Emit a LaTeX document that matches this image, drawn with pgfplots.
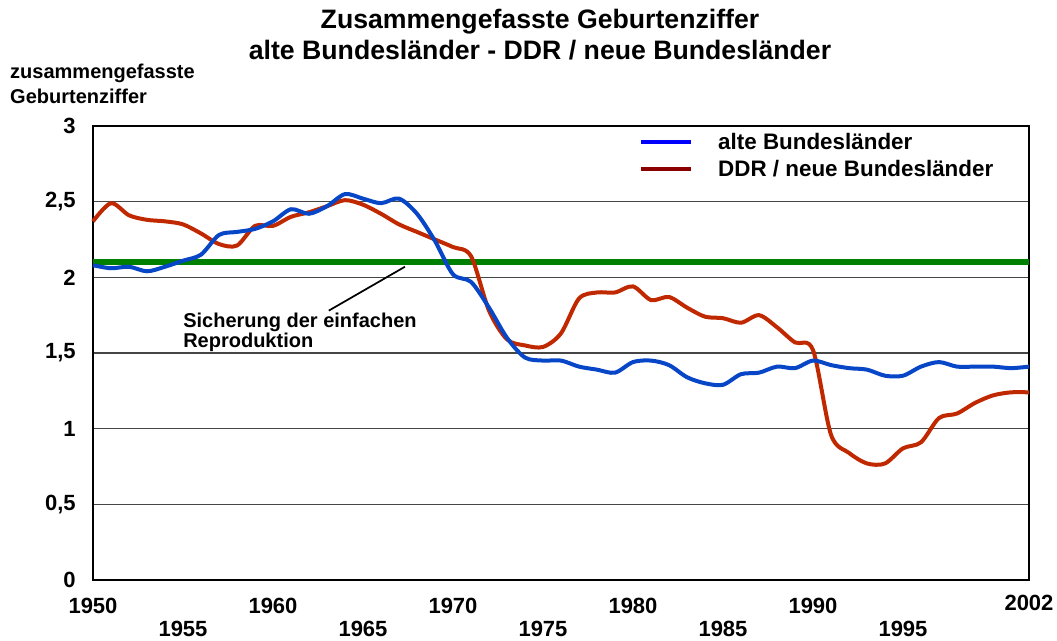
\documentclass[border=0pt]{standalone}
\usepackage{pgfplots}
\pgfplotsset{compat=1.18}
\usepackage{pgfplotstable}
\usepackage{fontspec}
\setmainfont{Liberation Sans}
\definecolor{westblue}{RGB}{8,70,200}
\definecolor{ostred}{RGB}{192,40,0}
\definecolor{legblue}{RGB}{0,0,255}
\definecolor{legred}{RGB}{140,0,0}
\definecolor{refgreen}{RGB}{0,128,0}
\pgfplotstableread{
year val
1950 2.08
1951 2.06
1952 2.07
1953 2.04
1954 2.07
1955 2.11
1956 2.15
1957 2.28
1958 2.30
1959 2.32
1960 2.37
1961 2.45
1962 2.42
1963 2.47
1964 2.55
1965 2.52
1966 2.49
1967 2.52
1968 2.42
1969 2.24
1970 2.02
1971 1.97
1972 1.80
1973 1.60
1974 1.47
1975 1.45
1976 1.45
1977 1.41
1978 1.39
1979 1.37
1980 1.44
1981 1.45
1982 1.42
1983 1.34
1984 1.30
1985 1.29
1986 1.36
1987 1.37
1988 1.41
1989 1.40
1990 1.45
1991 1.42
1992 1.40
1993 1.39
1994 1.35
1995 1.35
1996 1.41
1997 1.44
1998 1.41
1999 1.41
2000 1.41
2001 1.40
2002 1.41
}\alte
\pgfplotstableread{
year val
1950 2.37
1951 2.49
1952 2.41
1953 2.38
1954 2.37
1955 2.35
1956 2.29
1957 2.22
1958 2.21
1959 2.34
1960 2.34
1961 2.40
1962 2.43
1963 2.47
1964 2.51
1965 2.48
1966 2.42
1967 2.35
1968 2.30
1969 2.25
1970 2.20
1971 2.14
1972 1.78
1973 1.59
1974 1.55
1975 1.54
1976 1.63
1977 1.86
1978 1.90
1979 1.90
1980 1.94
1981 1.85
1982 1.87
1983 1.80
1984 1.74
1985 1.73
1986 1.70
1987 1.75
1988 1.67
1989 1.57
1990 1.52
1991 0.96
1992 0.84
1993 0.77
1994 0.77
1995 0.87
1996 0.91
1997 1.07
1998 1.10
1999 1.17
2000 1.22
2001 1.24
2002 1.24
}\neue
\pgfplotstableread{
year val
1950 2.1
2002 2.1
}\repro
\begin{document}
\begin{tikzpicture}
\begin{axis}[
  at={(0,0)}, anchor=south west,
  scale only axis,
  width=702pt, height=340.5pt,
  xmin=1950, xmax=2002, ymin=0, ymax=3,
  axis line style={black, line width=1pt},
  major tick length=0pt,
  ytick={0,0.5,1,1.5,2,2.5,3},
  yticklabels={0,{0,5},1,{1,5},2,{2,5},3},
  ymajorgrids,
  grid style={gray!55!black, line width=0.8pt},
  yticklabel style={font=\bfseries\fontsize{16.5}{18}\selectfont, anchor=east, inner sep=0pt, xshift=-12.75pt},
  xtick={1950,1960,1970,1980,1990,2002},
  xticklabels={1950,1960,1970,1980,1990,\raisebox{4.5pt}{2002}},
  xticklabel style={font=\bfseries\fontsize{16.5}{18}\selectfont, anchor=center, inner sep=0pt, yshift=-19.5pt},
  extra x ticks={1955,1965,1975,1985,1995},
  extra x tick labels={1955,1965,1975,1985,1995},
  extra x tick style={grid=none, xticklabel style={yshift=-17.5pt}},
  clip=false,
  legend style={at={(rel axis cs:0.579,0.99)}, anchor=north west, draw=none, fill=none,
    font=\bfseries\fontsize{16.8}{18}\selectfont, row sep=6.75pt,
    nodes={inner sep=0pt},
    /tikz/every odd column/.append style={column sep=18.75pt}},
  legend cell align=left,
  legend image code/.code={\draw[#1] (0pt,0.5pt) -- (37.5pt,0.5pt);},
]
\addplot[refgreen, line width=4.5pt, forget plot] table[x=year,y=val] {\repro};
\addplot[ostred, line width=3pt, smooth, tension=0.5, forget plot] table[x=year,y=val] {\neue};
\addplot[westblue, line width=3pt, smooth, tension=0.5, forget plot] table[x=year,y=val] {\alte};
\addlegendimage{legblue, line width=3pt}
\addlegendentry{alte Bundesländer}
\addlegendimage{legred, line width=3pt}
\addlegendentry{DDR / neue Bundesländer}
\draw[black, line width=1.3pt] (axis cs:1967.33,2.07) -- (axis cs:1963.1,1.78);
\node[anchor=west, align=left, inner sep=0pt, font=\bfseries\fontsize{15}{15}\selectfont] at (axis cs:1955,1.639) {Sicherung der einfachen\\Reproduktion};
\node[anchor=center, inner sep=0pt, font=\bfseries\fontsize{20}{22}\selectfont] at (rel axis cs:0.4776,1.229) {Zusammengefasste Geburtenziffer};
\node[anchor=center, inner sep=0pt, font=\bfseries\fontsize{20}{22}\selectfont] at (rel axis cs:0.4776,1.1674) {alte Bundesländer - DDR / neue Bundesländer};
\node[anchor=west, inner sep=0pt, font=\bfseries\fontsize{15}{16}\selectfont] at (rel axis cs:-0.0887,1.1167) {zusammengefasste};
\node[anchor=west, inner sep=0pt, font=\bfseries\fontsize{15}{16}\selectfont] at (rel axis cs:-0.0887,1.0661) {Geburtenziffer};
\end{axis}
\pgfresetboundingbox
\path[use as bounding box] (-69.75pt,-45pt) rectangle (723pt,435pt);
\end{tikzpicture}
\end{document}
